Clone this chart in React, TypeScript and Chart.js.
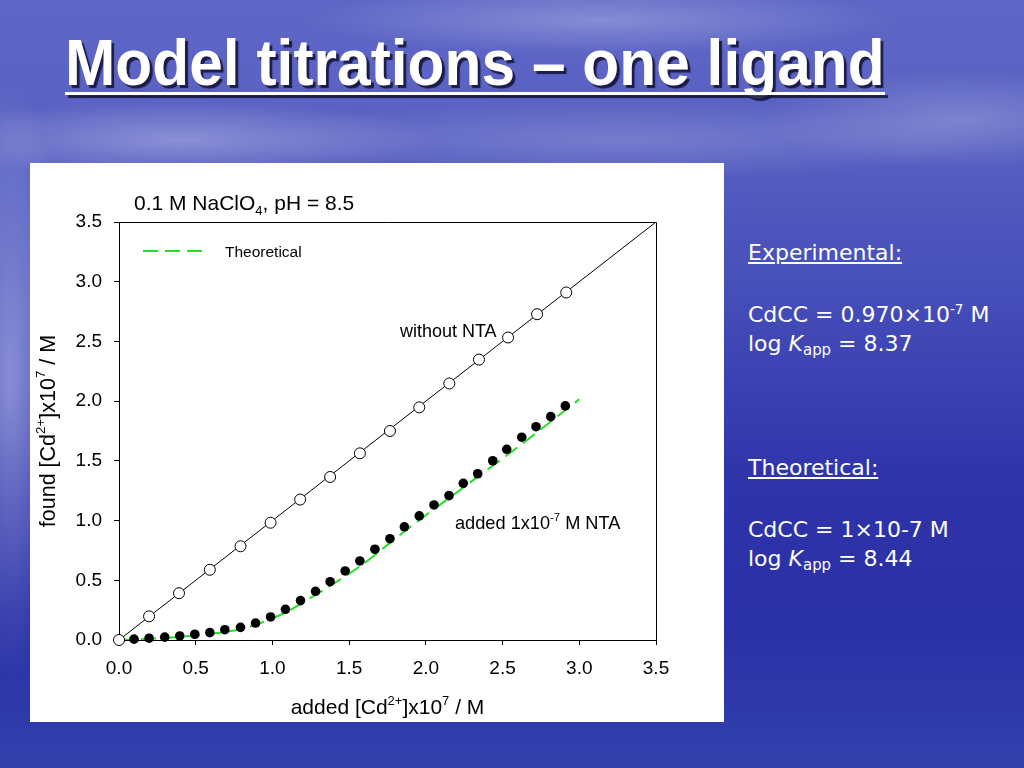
import React, { useEffect, useLayoutEffect, useRef, useState } from 'react';
import { Chart, registerables } from 'chart.js';

Chart.register(...registerables);

// ---------- data ----------
const tickValues = [0, 0.5, 1.0, 1.5, 2.0, 2.5, 3.0, 3.5];

const refLineX = [0, 3.5];
const refLineY = [0, 3.5];

const withoutX = [0, 0.196, 0.391, 0.592, 0.792, 0.988, 1.181, 1.376, 1.570, 1.766, 1.957, 2.153, 2.346, 2.536, 2.725, 2.915];
const withoutY = [0, 0.198, 0.392, 0.588, 0.785, 0.982, 1.176, 1.365, 1.563, 1.750, 1.948, 2.148, 2.348, 2.533, 2.728, 2.910];

const ntaX = [0.098, 0.196, 0.298, 0.396, 0.494, 0.592, 0.690, 0.792, 0.890, 0.988, 1.085, 1.183, 1.281, 1.376, 1.474, 1.570, 1.668, 1.766, 1.860, 1.957, 2.053, 2.151, 2.244, 2.338, 2.436, 2.527, 2.625, 2.718, 2.814, 2.909];
const ntaY = [0.007, 0.015, 0.024, 0.034, 0.048, 0.062, 0.086, 0.106, 0.142, 0.193, 0.257, 0.330, 0.408, 0.488, 0.578, 0.662, 0.760, 0.848, 0.948, 1.039, 1.131, 1.209, 1.312, 1.392, 1.501, 1.597, 1.698, 1.786, 1.870, 1.960];

const theoX = [0, 0.1, 0.2, 0.3, 0.4, 0.5, 0.6, 0.7, 0.8, 0.9, 1.0, 1.1, 1.2, 1.3, 1.4, 1.5, 1.6, 1.7, 1.8, 1.9, 2.0, 2.1, 2.2, 2.3, 2.4, 2.5, 2.6, 2.7, 2.8, 2.9, 3.0];
const theoY = [0, 0.004, 0.010, 0.017, 0.026, 0.037, 0.051, 0.069, 0.095, 0.132, 0.182, 0.240, 0.315, 0.393, 0.473, 0.555, 0.645, 0.745, 0.848, 0.948, 1.045, 1.140, 1.235, 1.330, 1.425, 1.520, 1.615, 1.715, 1.815, 1.915, 2.016];

// annotation anchors (data coordinates)
const withoutLabelPos = [1.831, 2.533];
const ntaLabelPos = [2.19, 0.93];

const FAMILY = '"Liberation Sans", Arial, Helvetica, sans-serif';

type Seg = { t: string; k?: 'sup' | 'sub' };

function drawRich(ctx: CanvasRenderingContext2D, segs: Seg[], x: number, y: number, size: number, align: 'left' | 'center') {
  const small = size * 0.62;
  let total = 0;
  const widths: number[] = [];
  for (const s of segs) {
    ctx.font = `${s.k ? small : size}px ${FAMILY}`;
    const w = ctx.measureText(s.t).width;
    widths.push(w);
    total += w;
  }
  let cx = align === 'center' ? x - total / 2 : x;
  ctx.textBaseline = 'alphabetic';
  ctx.textAlign = 'left';
  segs.forEach((s, i) => {
    ctx.font = `${s.k ? small : size}px ${FAMILY}`;
    const dy = s.k === 'sup' ? -size * 0.42 : s.k === 'sub' ? size * 0.25 : 0;
    ctx.fillText(s.t, cx, y + dy);
    cx += widths[i];
  });
}

const overlayPlugin = {
  id: 'overlayPlugin',
  afterDraw(chart: any) {
    const { ctx, chartArea: a, scales } = chart;
    ctx.save();
    // frame
    ctx.strokeStyle = '#000';
    ctx.lineWidth = 1;
    ctx.beginPath();
    ctx.moveTo(a.left, a.top + 0.5);
    ctx.lineTo(a.right + 0.5, a.top + 0.5);
    ctx.lineTo(a.right + 0.5, a.bottom);
    ctx.stroke();

    ctx.fillStyle = '#000';
    // top condition text
    drawRich(ctx, [{ t: '0.1 M NaClO' }, { t: '4', k: 'sub' }, { t: ', pH = 8.5' }], a.left + 15, a.top - 12, 21, 'left');

    // legend
    ctx.strokeStyle = '#22e022';
    ctx.lineWidth = 2;
    ctx.setLineDash([15, 7]);
    ctx.beginPath();
    ctx.moveTo(a.left + 24, a.top + 29);
    ctx.lineTo(a.left + 83, a.top + 29);
    ctx.stroke();
    ctx.setLineDash([]);
    ctx.fillStyle = '#000';
    ctx.font = `15.5px ${FAMILY}`;
    ctx.textBaseline = 'alphabetic';
    ctx.fillText('Theoretical', a.left + 106, a.top + 34.5);

    // annotations
    const x = scales.x, y = scales.y;
    drawRich(ctx, [{ t: 'without NTA' }], x.getPixelForValue(withoutLabelPos[0]), y.getPixelForValue(withoutLabelPos[1]), 18, 'left');
    drawRich(ctx, [{ t: 'added 1x10' }, { t: '-7', k: 'sup' }, { t: ' M NTA' }], x.getPixelForValue(ntaLabelPos[0]), y.getPixelForValue(ntaLabelPos[1]), 18.2, 'left');

    // axis titles
    drawRich(ctx, [{ t: 'added [Cd' }, { t: '2+', k: 'sup' }, { t: ']x10' }, { t: '7', k: 'sup' }, { t: ' / M' }], (a.left + a.right) / 2, 551, 21, 'center');
    ctx.translate(24.5, (a.top + a.bottom) / 2);
    ctx.rotate(-Math.PI / 2);
    drawRich(ctx, [{ t: 'found [Cd' }, { t: '2+', k: 'sup' }, { t: ']x10' }, { t: '7', k: 'sup' }, { t: ' / M' }], 0, 0, 21.5, 'center');
    ctx.restore();
  },
};

function zip(xs: number[], ys: number[]) {
  return xs.map((v, i) => ({ x: v, y: ys[i] }));
}

function ChartPanel() {
  const ref = useRef<HTMLCanvasElement | null>(null);
  useEffect(() => {
    if (!ref.current) return;
    const tickFont = { family: FAMILY, size: 19 };
    const axisCommon = () => ({
      type: 'linear' as const,
      min: 0,
      max: 3.5,
      afterBuildTicks: (s: any) => {
        s.ticks = tickValues.map((v) => ({ value: v }));
      },
      ticks: {
        color: '#000',
        font: tickFont,
        padding: 12,
        callback: (v: any) => Number(v).toFixed(1),
      },
      grid: {
        display: true,
        drawOnChartArea: false,
        drawTicks: true,
        tickLength: 5,
        color: '#000',
        tickColor: '#000',
      },
      border: { display: true, color: '#000', width: 1 },
      title: { display: false },
    });
    const chart = new Chart(ref.current, {
      type: 'scatter',
      data: {
        datasets: [
          {
            label: 'without NTA',
            data: zip(withoutX, withoutY),
            showLine: false,
            pointStyle: 'circle',
            pointRadius: 5.5,
            pointBackgroundColor: '#fff',
            pointBorderColor: '#000',
            pointBorderWidth: 1,
            clip: false,
          } as any,
          {
            label: 'added NTA',
            data: zip(ntaX, ntaY),
            showLine: false,
            pointStyle: 'circle',
            pointRadius: 4.8,
            pointBackgroundColor: '#000',
            pointBorderColor: '#000',
            pointBorderWidth: 0,
            clip: false,
          } as any,
          {
            label: 'Theoretical',
            data: zip(theoX, theoY),
            showLine: true,
            borderColor: '#22e022',
            borderWidth: 2,
            borderDash: [15, 7],
            pointRadius: 0,
            cubicInterpolationMode: 'monotone',
          } as any,
          {
            label: 'y=x',
            data: zip(refLineX, refLineY),
            showLine: true,
            borderColor: '#000',
            borderWidth: 1,
            pointRadius: 0,
          } as any,
        ],
      },
      options: {
        animation: false,
        responsive: false,
        devicePixelRatio: 1,
        layout: { padding: { left: 0, top: 59, right: 68, bottom: 0 } },
        plugins: { legend: { display: false }, tooltip: { enabled: false } },
        scales: {
          x: { ...axisCommon(), position: 'bottom', afterFit: (s: any) => { s.height = 82; } } as any,
          y: { ...axisCommon(), position: 'left', afterFit: (s: any) => { s.width = 89; } } as any,
        },
      },
      plugins: [overlayPlugin],
    });
    return () => chart.destroy();
  }, []);
  return (
    <canvas
      ref={ref}
      width={694}
      height={559}
      style={{ position: 'absolute', left: 30, top: 163, width: 694, height: 559, background: '#fff' }}
    />
  );
}

function Title() {
  const ref = useRef<HTMLSpanElement | null>(null);
  const [scale, setScale] = useState(1);
  useLayoutEffect(() => {
    if (ref.current) {
      const w = ref.current.offsetWidth;
      if (w > 0) setScale(820 / w);
    }
  }, []);
  return (
    <>
      <div
        style={{
          position: 'absolute',
          left: 65,
          top: 31,
          lineHeight: '64px',
          fontSize: 64,
          fontWeight: 700,
          fontFamily: '"Liberation Sans Narrow", "Liberation Sans", Arial, sans-serif',
          color: '#fff',
          whiteSpace: 'nowrap',
          transform: `scaleX(${scale})`,
          transformOrigin: 'left top',
          textShadow: '3px 3px 1px rgba(20,20,60,0.9)',
        }}
      >
        <span ref={ref} style={{ display: 'inline-block' }}>Model titrations – one ligand</span>
      </div>
      <div
        style={{
          position: 'absolute',
          left: 65,
          top: 92,
          width: 820,
          height: 3,
          background: '#fff',
          boxShadow: '3px 3px 1px rgba(20,20,60,0.9)',
        }}
      />
    </>
  );
}

const SIDE_FONT = '"DejaVu Sans", Verdana, sans-serif';
const SIDE_SIZE = 22;

function SideLine({ baseline, children, underline }: { baseline: number; children: React.ReactNode; underline?: boolean }) {
  return (
    <div
      style={{
        position: 'absolute',
        left: 748,
        top: baseline - 0.846 * SIDE_SIZE,
        fontFamily: SIDE_FONT,
        fontSize: SIDE_SIZE,
        lineHeight: `${SIDE_SIZE}px`,
        color: '#fff',
        whiteSpace: 'nowrap',
        textDecoration: underline ? 'underline' : 'none',
        textUnderlineOffset: '2px',
      }}
    >
      {children}
    </div>
  );
}

const sub: React.CSSProperties = { fontSize: '0.68em', verticalAlign: '-0.3em', lineHeight: 0 };
const sup: React.CSSProperties = { fontSize: '0.62em', verticalAlign: '0.6em', lineHeight: 0 };

export default function App() {
  return (
    <div
      style={{
        position: 'fixed',
        left: 0,
        top: 0,
        width: 1024,
        height: 768,
        overflow: 'hidden',
        background: [
          'radial-gradient(ellipse 260px 40px at 180px 140px, rgba(255,255,255,0.30), rgba(255,255,255,0))',
          'radial-gradient(ellipse 300px 35px at 600px 20px, rgba(255,255,255,0.25), rgba(255,255,255,0))',
          'radial-gradient(ellipse 200px 50px at 960px 120px, rgba(255,255,255,0.22), rgba(255,255,255,0))',
          'radial-gradient(ellipse 60px 300px at 10px 380px, rgba(200,205,240,0.55), rgba(200,205,240,0))',
          'radial-gradient(ellipse 380px 40px at 620px 140px, rgba(255,255,255,0.18), rgba(255,255,255,0))',
          'linear-gradient(180deg, #5e66c6 0%, #5860c2 18%, #444cb8 40%, #3034aa 62%, #2a30a6 80%, #3240ac 100%)',
        ].join(', '),
      }}
    >
      <Title />
      <div style={{ position: 'absolute', left: 30, top: 163, width: 694, height: 559, background: '#fff' }} />
      <ChartPanel />
      <SideLine baseline={261} underline>Experimental:</SideLine>
      <SideLine baseline={323}>
        CdCC = 0.970×10<span style={sup}>-7</span> M
      </SideLine>
      <SideLine baseline={352}>
        log <i>K</i><span style={sub}>app</span> = 8.37
      </SideLine>
      <SideLine baseline={476} underline>Theoretical:</SideLine>
      <SideLine baseline={538}>CdCC = 1×10-7 M</SideLine>
      <SideLine baseline={567}>
        log <i>K</i><span style={sub}>app</span> = 8.44
      </SideLine>
    </div>
  );
}
